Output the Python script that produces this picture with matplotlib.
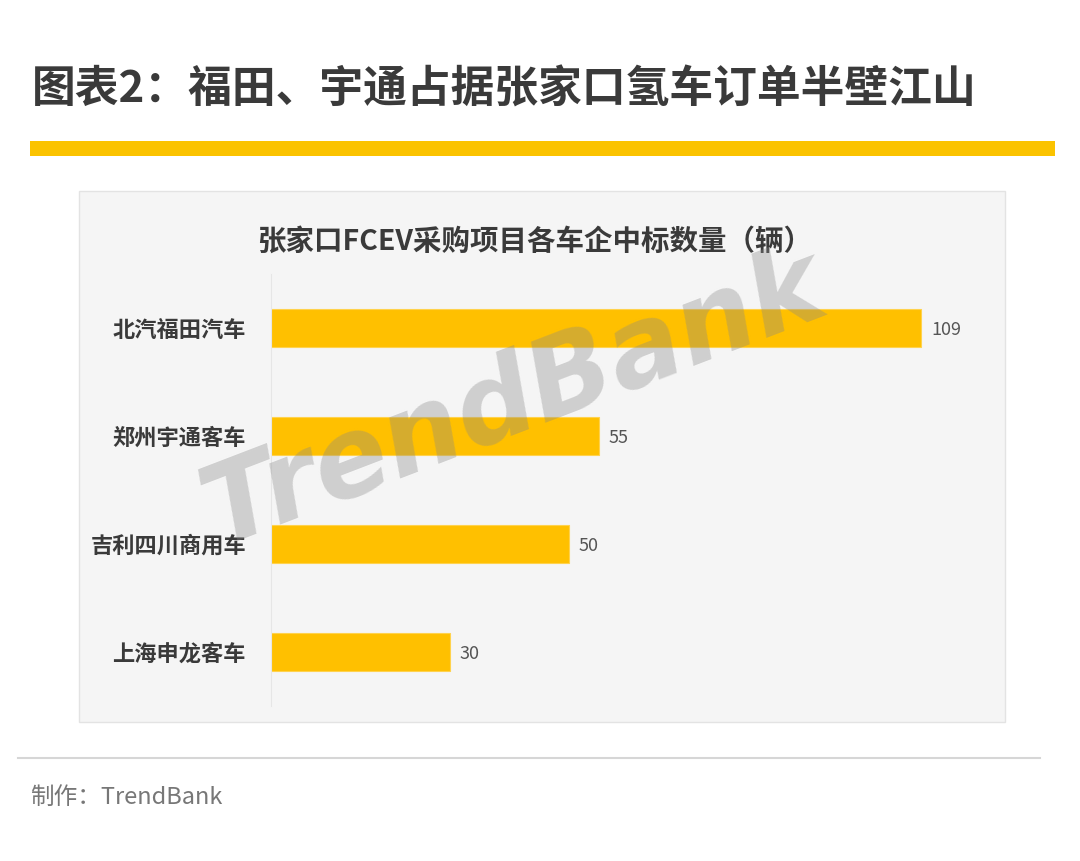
import matplotlib.pyplot as plt
from matplotlib.patches import Rectangle

plt.rcParams['font.family'] = ['Noto Sans CJK SC', 'DejaVu Sans']

title = '图表2：福田、宇通占据张家口氢车订单半壁江山'
chart_title = '张家口FCEV采购项目各车企中标数量（辆）'
companies = ['北汽福田汽车', '郑州宇通客车', '吉利四川商用车', '上海申龙客车']
counts = [109, 55, 50, 30]
footer = '制作：TrendBank'

W, H = 1080, 861
fig = plt.figure(figsize=(W / 100, H / 100), dpi=100)
fig.patch.set_facecolor('white')


def px(x, y):
    # pixel coords (top-left origin) -> figure fraction
    return x / W, 1 - y / H


# header
fig.text(*px(32, 90), title, fontsize=31.5, fontweight='bold', color='#3a3a3a',
         ha='left', va='center')
fig.patches.append(Rectangle(px(30, 156), 1025 / W, 15 / H, transform=fig.transFigure,
                             facecolor='#fbc300', edgecolor='none', zorder=0))

# gray panel
fig.patches.append(Rectangle(px(79, 722), 926 / W, 531 / H, transform=fig.transFigure,
                             facecolor='#f5f5f5', edgecolor='#e3e3e3', lw=1, zorder=0))
fig.text(*px(535, 242), chart_title, fontsize=20.5, fontweight='bold', color='#3a3a3a',
         ha='center', va='center')

# bars
ax = fig.add_axes([271 / W, 1 - 706 / H, 716 / W, 432 / H])
ax.set_zorder(2)
ax.set_facecolor('none')
y = list(range(len(companies)))
ax.barh(y, counts, height=0.35, color='#ffc000', edgecolor='#ffd24d', lw=0.8)
for yi, c in zip(y, counts):
    ax.text(c + 1.6, yi + 0.02, str(c), va='center', ha='left', fontsize=13, color='#555555')
ax.set_xlim(0, 120)
ax.set_ylim(len(companies) - 0.5, -0.5)
ax.set_yticks(y)
ax.set_yticklabels(companies, fontsize=16, fontweight='bold', color='#3a3a3a')
ax.tick_params(axis='y', length=0, pad=18)
ax.set_xticks([])
for s in ['top', 'right', 'bottom']:
    ax.spines[s].set_visible(False)
ax.spines['left'].set_color('#e6e6e6')

# watermark
wm = fig.text(*px(515, 400), 'TrendBank', fontsize=79, fontweight='bold', fontstyle='italic',
              family='DejaVu Sans', color='#888888', alpha=0.35, rotation=21,
              ha='center', va='center')
wm.set_zorder(5)

# footer
fig.lines.append(plt.Line2D([18 / W, 1040 / W], [1 - 758 / H] * 2, transform=fig.transFigure,
                            color='#d6d6d6', lw=1.5))
fig.text(*px(30, 797), footer, fontsize=17, color='#777777', ha='left', va='center')

fig.savefig('out.png', dpi=100)
